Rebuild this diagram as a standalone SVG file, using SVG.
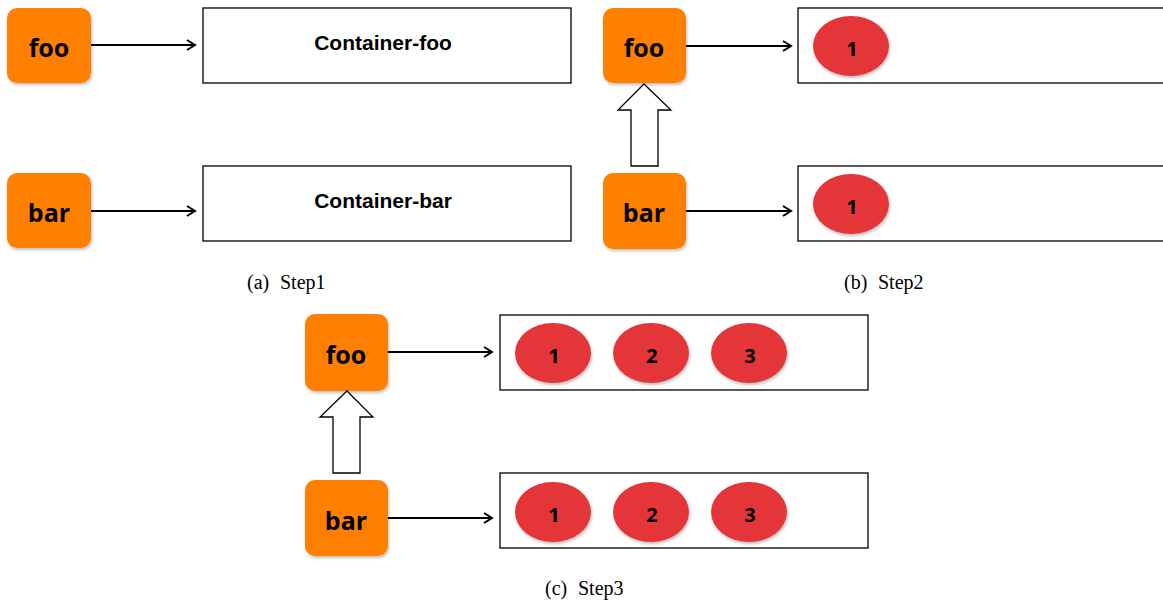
<svg xmlns="http://www.w3.org/2000/svg" width="1163" height="603" viewBox="0 0 1163 603">
<style>
.node{fill:#FF7F00}
.nl{font-family:"Open Sans","Liberation Sans",sans-serif;font-weight:bold;font-size:25px;fill:#000;text-anchor:middle}
.cont{fill:#fff;stroke:#000;stroke-width:1.3}
.ct{font-family:"Liberation Sans",Arial,sans-serif;font-weight:bold;font-size:21px;fill:#000;text-anchor:middle}
.ell{fill:#E43638}
.et{font-family:"Open Sans","Liberation Sans",sans-serif;font-weight:bold;font-size:20px;fill:#000;text-anchor:middle}
.conn{stroke:#000;stroke-width:2;fill:none;marker-end:url(#ah)}
.hollow{fill:#fff;stroke:#000;stroke-width:1.3}
.cap{font-family:"Liberation Serif","Times New Roman",serif;font-size:20px;fill:#000}
</style>
<defs>
<marker id="ah" markerWidth="12" markerHeight="12" refX="10" refY="6" orient="auto" markerUnits="userSpaceOnUse">
<path d="M2,1 L10,6 L2,11" fill="none" stroke="#000" stroke-width="2"/>
</marker>
<filter id="sh" x="-20%" y="-20%" width="140%" height="140%">
<feDropShadow dx="1" dy="2" stdDeviation="1.5" flood-color="#000" flood-opacity="0.25"/>
</filter>
</defs>
<rect width="1163" height="603" fill="#fff"/>

<!-- containers -->
<g id="a-container-foo"><rect class="cont" x="203" y="8" width="368" height="75"/><text class="ct" x="383" y="50">Container-foo</text></g>
<g id="a-container-bar"><rect class="cont" x="203" y="166" width="368" height="75"/><text class="ct" x="383" y="208">Container-bar</text></g>
<g id="b-container-foo"><rect class="cont" x="798" y="8" width="370" height="75"/>
<ellipse class="ell" cx="851" cy="46" rx="38" ry="30" filter="url(#sh)"/><text class="et" x="852" y="56">1</text></g>
<g id="b-container-bar"><rect class="cont" x="798" y="166" width="370" height="75"/>
<ellipse class="ell" cx="851" cy="204" rx="38" ry="30" filter="url(#sh)"/><text class="et" x="852" y="214">1</text></g>
<g id="c-container-foo"><rect class="cont" x="500" y="315" width="368" height="75"/>
<ellipse class="ell" cx="553" cy="353" rx="38" ry="30" filter="url(#sh)"/><text class="et" x="554" y="363">1</text>
<ellipse class="ell" cx="651" cy="353" rx="38" ry="30" filter="url(#sh)"/><text class="et" x="652" y="363">2</text>
<ellipse class="ell" cx="749" cy="353" rx="38" ry="30" filter="url(#sh)"/><text class="et" x="750" y="363">3</text></g>
<g id="c-container-bar"><rect class="cont" x="500" y="473" width="368" height="75"/>
<ellipse class="ell" cx="553" cy="512" rx="38" ry="30" filter="url(#sh)"/><text class="et" x="554" y="522">1</text>
<ellipse class="ell" cx="651" cy="512" rx="38" ry="30" filter="url(#sh)"/><text class="et" x="652" y="522">2</text>
<ellipse class="ell" cx="749" cy="512" rx="38" ry="30" filter="url(#sh)"/><text class="et" x="750" y="522">3</text></g>

<!-- nodes -->
<g id="a-foo"><rect class="node" x="7" y="8" width="84" height="75" rx="10" filter="url(#sh)"/><text class="nl" x="49" y="57">foo</text></g>
<g id="a-bar"><rect class="node" x="7" y="173" width="84" height="75" rx="10" filter="url(#sh)"/><text class="nl" x="49" y="222">bar</text></g>
<g id="b-foo"><rect class="node" x="603" y="8" width="83" height="75" rx="10" filter="url(#sh)"/><text class="nl" x="644" y="57">foo</text></g>
<g id="b-bar"><rect class="node" x="603" y="173" width="83" height="76" rx="10" filter="url(#sh)"/><text class="nl" x="644" y="222">bar</text></g>
<g id="c-foo"><rect class="node" x="305" y="314" width="83" height="77" rx="10" filter="url(#sh)"/><text class="nl" x="346" y="364">foo</text></g>
<g id="c-bar"><rect class="node" x="305" y="480" width="83" height="76" rx="10" filter="url(#sh)"/><text class="nl" x="346" y="530">bar</text></g>

<!-- connectors -->
<g id="connectors">
<line class="conn" x1="91" y1="45" x2="195" y2="45"/>
<line class="conn" x1="91" y1="211" x2="195" y2="211"/>
<line class="conn" x1="686" y1="46" x2="791" y2="46"/>
<line class="conn" x1="686" y1="211" x2="791" y2="211"/>
<line class="conn" x1="388" y1="352" x2="492" y2="352"/>
<line class="conn" x1="388" y1="518" x2="492" y2="518"/>
<polygon class="hollow" points="644,84 671,110 658,110 658,166 631,166 631,110 618,110"/>
<polygon class="hollow" points="347,391 373,417 360,417 360,473 333,473 333,417 320,417"/>
</g>

<!-- captions -->
<text class="cap" y="289"><tspan x="247">(a)</tspan><tspan x="280">Step1</tspan></text>
<text class="cap" y="289"><tspan x="844">(b)</tspan><tspan x="878">Step2</tspan></text>
<text class="cap" y="595"><tspan x="545">(c)</tspan><tspan x="578">Step3</tspan></text>
</svg>
